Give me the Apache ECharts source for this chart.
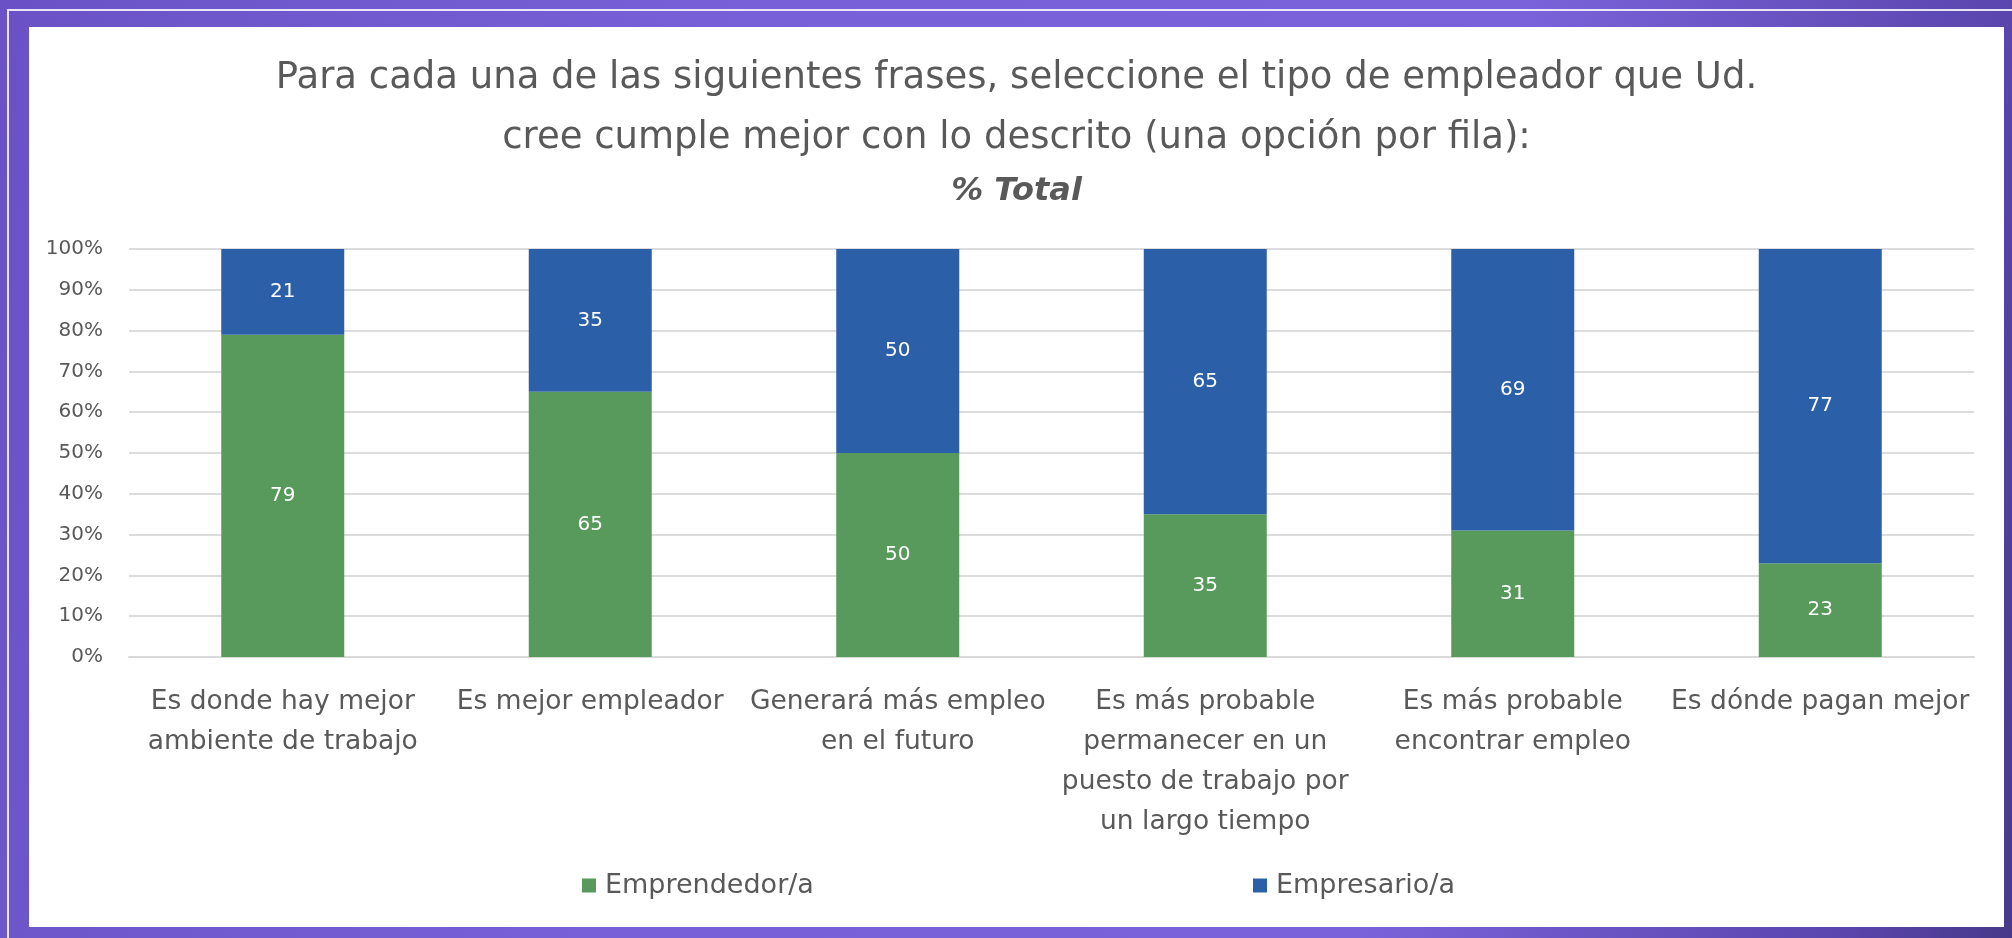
<!DOCTYPE html>
<html>
<head>
<meta charset="utf-8">
<script src="https://cdn.jsdelivr.net/npm/echarts@6/dist/echarts.min.js"></script>
<style>
  html, body { margin: 0; padding: 0; width: 2012px; height: 938px; overflow: hidden; }
  body { background: linear-gradient(100deg, #6a52c6 0%, #7861d8 35%, #7a63da 70%, #5a46ae 92%, #48398a 100%); position: relative; }
  .frame { position: absolute; left: 7px; top: 9px; width: 2100px; height: 1000px; border-left: 2px solid rgba(255,255,255,0.85); border-top: 2px solid rgba(255,255,255,0.85); }
  #chart { position: absolute; left: 29px; top: 27px; width: 1975px; height: 900px; background: #fff; }
</style>
</head>
<body>
<div class="frame"></div>
<div id="chart"></div>
<script>
const titleLines = [
  'Para cada una de las siguientes frases, seleccione el tipo de empleador que Ud.',
  'cree cumple mejor con lo descrito (una opción por fila):'
]
const subtitle = '% Total'
const categories = [
  'Es donde hay mejor\nambiente de trabajo',
  'Es mejor empleador',
  'Generará más empleo\nen el futuro',
  'Es más probable\npermanecer en un\npuesto de trabajo por\nun largo tiempo',
  'Es más probable\nencontrar empleo',
  'Es dónde pagan mejor'
]
const emprendedor = [79, 65, 50, 35, 31, 23]
const empresario = [21, 35, 50, 65, 69, 77]
const seriesNames = ['Emprendedor/a', 'Empresario/a']
const colors = ['#589a5b', '#2b60a8']

const fontFamily = '"DejaVu Sans", Inter, sans-serif'
const textGrey = '#595959'

const chart = echarts.init(document.getElementById('chart'))

const valueLabel = {
  show: true,
  position: 'inside',
  color: '#fff',
  fontSize: 20,
  fontFamily: fontFamily
}

const legendText = { fontFamily: fontFamily, fontSize: 27, color: textGrey, padding: [0, 0, 0, 4] }

const option = {
  animation: false,
  title: [
    {
      text: titleLines[0],
      left: 'center',
      top: 24,
      textStyle: { fontFamily: fontFamily, fontSize: 37, fontWeight: 'normal', color: textGrey, lineHeight: 44 }
    },
    {
      text: titleLines[1],
      left: 'center',
      top: 84,
      textStyle: { fontFamily: fontFamily, fontSize: 37, fontWeight: 'normal', color: textGrey, lineHeight: 44 }
    },
    {
      text: subtitle,
      left: 'center',
      top: 140,
      textStyle: { fontFamily: fontFamily, fontSize: 32, fontWeight: 'bold', fontStyle: 'italic', color: textGrey, lineHeight: 40 }
    }
  ],
  legend: [
    {
      data: [seriesNames[0]],
      left: 548,
      top: 840,
      itemWidth: 14,
      itemHeight: 14,
      icon: 'rect',
      textStyle: legendText
    },
    {
      data: [seriesNames[1]],
      left: 1219,
      top: 840,
      itemWidth: 14,
      itemHeight: 14,
      icon: 'rect',
      textStyle: legendText
    }
  ],
  grid: { left: 100, right: 30, top: 222, bottom: 270, containLabel: false },
  xAxis: {
    type: 'category',
    data: categories,
    axisTick: { show: false },
    axisLine: { lineStyle: { color: '#d9d9d9', width: 2 } },
    axisLabel: {
      interval: 0,
      margin: 25,
      fontFamily: fontFamily,
      fontSize: 26.5,
      lineHeight: 40,
      color: textGrey
    }
  },
  yAxis: {
    type: 'value',
    min: 0,
    max: 100,
    interval: 10,
    axisLine: { show: false },
    axisTick: { show: false },
    splitLine: { lineStyle: { color: '#dcdcdc', width: 2 } },
    axisLabel: {
      formatter: '{value}%',
      margin: 26,
      fontFamily: fontFamily,
      fontSize: 20,
      color: textGrey
    }
  },
  series: [
    {
      name: seriesNames[0],
      type: 'bar',
      stack: 'total',
      barWidth: '40%',
      data: emprendedor,
      itemStyle: { color: colors[0] },
      label: valueLabel
    },
    {
      name: seriesNames[1],
      type: 'bar',
      stack: 'total',
      barWidth: '40%',
      data: empresario,
      itemStyle: { color: colors[1] },
      label: valueLabel
    }
  ]
}

chart.setOption(option)
</script>
</body>
</html>
